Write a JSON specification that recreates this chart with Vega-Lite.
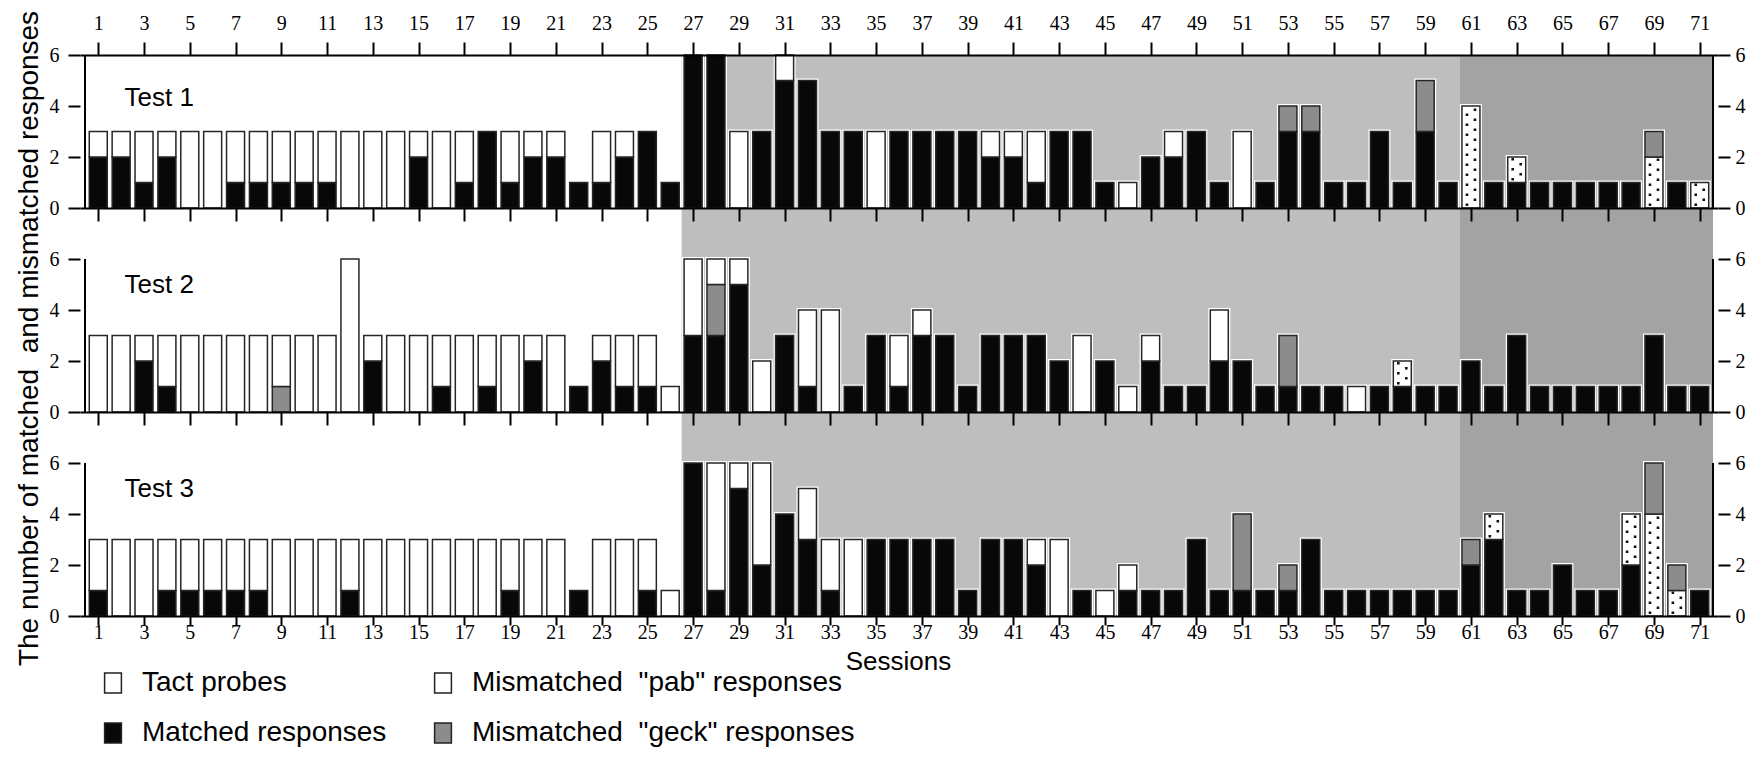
{
  "$schema": "https://vega.github.io/schema/vega-lite/v6.json",
  "background": "white",
  "padding": {"left": 14, "top": 10, "right": 10, "bottom": 10},
  "bounds": "flush",
  "spacing": 0,
  "datasets": {
    "phases": [
      {"phase": "light", "start": 26.5, "end": 60.5},
      {"phase": "dark", "start": 60.5, "end": 71.58}
    ],
    "panels": [
      {"test": 1, "label": "Test 1"},
      {"test": 2, "label": "Test 2"},
      {"test": 3, "label": "Test 3"}
    ],
    "sessions": [
      {"test":1,"session":1,"matched":2,"tact":1},
      {"test":1,"session":2,"matched":2,"tact":1},
      {"test":1,"session":3,"matched":1,"tact":2},
      {"test":1,"session":4,"matched":2,"tact":1},
      {"test":1,"session":5,"tact":3},
      {"test":1,"session":6,"tact":3},
      {"test":1,"session":7,"matched":1,"tact":2},
      {"test":1,"session":8,"matched":1,"tact":2},
      {"test":1,"session":9,"matched":1,"tact":2},
      {"test":1,"session":10,"matched":1,"tact":2},
      {"test":1,"session":11,"matched":1,"tact":2},
      {"test":1,"session":12,"tact":3},
      {"test":1,"session":13,"tact":3},
      {"test":1,"session":14,"tact":3},
      {"test":1,"session":15,"matched":2,"tact":1},
      {"test":1,"session":16,"tact":3},
      {"test":1,"session":17,"matched":1,"tact":2},
      {"test":1,"session":18,"matched":3},
      {"test":1,"session":19,"matched":1,"tact":2},
      {"test":1,"session":20,"matched":2,"tact":1},
      {"test":1,"session":21,"matched":2,"tact":1},
      {"test":1,"session":22,"matched":1},
      {"test":1,"session":23,"matched":1,"tact":2},
      {"test":1,"session":24,"matched":2,"tact":1},
      {"test":1,"session":25,"matched":3},
      {"test":1,"session":26,"matched":1},
      {"test":1,"session":27,"matched":6},
      {"test":1,"session":28,"matched":6},
      {"test":1,"session":29,"tact":3},
      {"test":1,"session":30,"matched":3},
      {"test":1,"session":31,"matched":5,"tact":1},
      {"test":1,"session":32,"matched":5},
      {"test":1,"session":33,"matched":3},
      {"test":1,"session":34,"matched":3},
      {"test":1,"session":35,"tact":3},
      {"test":1,"session":36,"matched":3},
      {"test":1,"session":37,"matched":3},
      {"test":1,"session":38,"matched":3},
      {"test":1,"session":39,"matched":3},
      {"test":1,"session":40,"matched":2,"tact":1},
      {"test":1,"session":41,"matched":2,"tact":1},
      {"test":1,"session":42,"matched":1,"tact":2},
      {"test":1,"session":43,"matched":3},
      {"test":1,"session":44,"matched":3},
      {"test":1,"session":45,"matched":1},
      {"test":1,"session":46,"tact":1},
      {"test":1,"session":47,"matched":2},
      {"test":1,"session":48,"matched":2,"tact":1},
      {"test":1,"session":49,"matched":3},
      {"test":1,"session":50,"matched":1},
      {"test":1,"session":51,"tact":3},
      {"test":1,"session":52,"matched":1},
      {"test":1,"session":53,"matched":3,"geck":1},
      {"test":1,"session":54,"matched":3,"geck":1},
      {"test":1,"session":55,"matched":1},
      {"test":1,"session":56,"matched":1},
      {"test":1,"session":57,"matched":3},
      {"test":1,"session":58,"matched":1},
      {"test":1,"session":59,"matched":3,"geck":2},
      {"test":1,"session":60,"matched":1},
      {"test":1,"session":61,"pab":4},
      {"test":1,"session":62,"matched":1},
      {"test":1,"session":63,"matched":1,"pab":1},
      {"test":1,"session":64,"matched":1},
      {"test":1,"session":65,"matched":1},
      {"test":1,"session":66,"matched":1},
      {"test":1,"session":67,"matched":1},
      {"test":1,"session":68,"matched":1},
      {"test":1,"session":69,"pab":2,"geck":1},
      {"test":1,"session":70,"matched":1},
      {"test":1,"session":71,"pab":1},

      {"test":2,"session":1,"tact":3},
      {"test":2,"session":2,"tact":3},
      {"test":2,"session":3,"matched":2,"tact":1},
      {"test":2,"session":4,"matched":1,"tact":2},
      {"test":2,"session":5,"tact":3},
      {"test":2,"session":6,"tact":3},
      {"test":2,"session":7,"tact":3},
      {"test":2,"session":8,"tact":3},
      {"test":2,"session":9,"geck":1,"tact":2},
      {"test":2,"session":10,"tact":3},
      {"test":2,"session":11,"tact":3},
      {"test":2,"session":12,"tact":6},
      {"test":2,"session":13,"matched":2,"tact":1},
      {"test":2,"session":14,"tact":3},
      {"test":2,"session":15,"tact":3},
      {"test":2,"session":16,"matched":1,"tact":2},
      {"test":2,"session":17,"tact":3},
      {"test":2,"session":18,"matched":1,"tact":2},
      {"test":2,"session":19,"tact":3},
      {"test":2,"session":20,"matched":2,"tact":1},
      {"test":2,"session":21,"tact":3},
      {"test":2,"session":22,"matched":1},
      {"test":2,"session":23,"matched":2,"tact":1},
      {"test":2,"session":24,"matched":1,"tact":2},
      {"test":2,"session":25,"matched":1,"tact":2},
      {"test":2,"session":26,"tact":1},
      {"test":2,"session":27,"matched":3,"tact":3},
      {"test":2,"session":28,"matched":3,"geck":2,"tact":1},
      {"test":2,"session":29,"matched":5,"tact":1},
      {"test":2,"session":30,"tact":2},
      {"test":2,"session":31,"matched":3},
      {"test":2,"session":32,"matched":1,"tact":3},
      {"test":2,"session":33,"tact":4},
      {"test":2,"session":34,"matched":1},
      {"test":2,"session":35,"matched":3},
      {"test":2,"session":36,"matched":1,"tact":2},
      {"test":2,"session":37,"matched":3,"tact":1},
      {"test":2,"session":38,"matched":3},
      {"test":2,"session":39,"matched":1},
      {"test":2,"session":40,"matched":3},
      {"test":2,"session":41,"matched":3},
      {"test":2,"session":42,"matched":3},
      {"test":2,"session":43,"matched":2},
      {"test":2,"session":44,"tact":3},
      {"test":2,"session":45,"matched":2},
      {"test":2,"session":46,"tact":1},
      {"test":2,"session":47,"matched":2,"tact":1},
      {"test":2,"session":48,"matched":1},
      {"test":2,"session":49,"matched":1},
      {"test":2,"session":50,"matched":2,"tact":2},
      {"test":2,"session":51,"matched":2},
      {"test":2,"session":52,"matched":1},
      {"test":2,"session":53,"matched":1,"geck":2},
      {"test":2,"session":54,"matched":1},
      {"test":2,"session":55,"matched":1},
      {"test":2,"session":56,"tact":1},
      {"test":2,"session":57,"matched":1},
      {"test":2,"session":58,"matched":1,"pab":1},
      {"test":2,"session":59,"matched":1},
      {"test":2,"session":60,"matched":1},
      {"test":2,"session":61,"matched":2},
      {"test":2,"session":62,"matched":1},
      {"test":2,"session":63,"matched":3},
      {"test":2,"session":64,"matched":1},
      {"test":2,"session":65,"matched":1},
      {"test":2,"session":66,"matched":1},
      {"test":2,"session":67,"matched":1},
      {"test":2,"session":68,"matched":1},
      {"test":2,"session":69,"matched":3},
      {"test":2,"session":70,"matched":1},
      {"test":2,"session":71,"matched":1},

      {"test":3,"session":1,"matched":1,"tact":2},
      {"test":3,"session":2,"tact":3},
      {"test":3,"session":3,"tact":3},
      {"test":3,"session":4,"matched":1,"tact":2},
      {"test":3,"session":5,"matched":1,"tact":2},
      {"test":3,"session":6,"matched":1,"tact":2},
      {"test":3,"session":7,"matched":1,"tact":2},
      {"test":3,"session":8,"matched":1,"tact":2},
      {"test":3,"session":9,"tact":3},
      {"test":3,"session":10,"tact":3},
      {"test":3,"session":11,"tact":3},
      {"test":3,"session":12,"matched":1,"tact":2},
      {"test":3,"session":13,"tact":3},
      {"test":3,"session":14,"tact":3},
      {"test":3,"session":15,"tact":3},
      {"test":3,"session":16,"tact":3},
      {"test":3,"session":17,"tact":3},
      {"test":3,"session":18,"tact":3},
      {"test":3,"session":19,"matched":1,"tact":2},
      {"test":3,"session":20,"tact":3},
      {"test":3,"session":21,"tact":3},
      {"test":3,"session":22,"matched":1},
      {"test":3,"session":23,"tact":3},
      {"test":3,"session":24,"tact":3},
      {"test":3,"session":25,"matched":1,"tact":2},
      {"test":3,"session":26,"tact":1},
      {"test":3,"session":27,"matched":6},
      {"test":3,"session":28,"matched":1,"tact":5},
      {"test":3,"session":29,"matched":5,"tact":1},
      {"test":3,"session":30,"matched":2,"tact":4},
      {"test":3,"session":31,"matched":4},
      {"test":3,"session":32,"matched":3,"tact":2},
      {"test":3,"session":33,"matched":1,"tact":2},
      {"test":3,"session":34,"tact":3},
      {"test":3,"session":35,"matched":3},
      {"test":3,"session":36,"matched":3},
      {"test":3,"session":37,"matched":3},
      {"test":3,"session":38,"matched":3},
      {"test":3,"session":39,"matched":1},
      {"test":3,"session":40,"matched":3},
      {"test":3,"session":41,"matched":3},
      {"test":3,"session":42,"matched":2,"tact":1},
      {"test":3,"session":43,"tact":3},
      {"test":3,"session":44,"matched":1},
      {"test":3,"session":45,"tact":1},
      {"test":3,"session":46,"matched":1,"tact":1},
      {"test":3,"session":47,"matched":1},
      {"test":3,"session":48,"matched":1},
      {"test":3,"session":49,"matched":3},
      {"test":3,"session":50,"matched":1},
      {"test":3,"session":51,"matched":1,"geck":3},
      {"test":3,"session":52,"matched":1},
      {"test":3,"session":53,"matched":1,"geck":1},
      {"test":3,"session":54,"matched":3},
      {"test":3,"session":55,"matched":1},
      {"test":3,"session":56,"matched":1},
      {"test":3,"session":57,"matched":1},
      {"test":3,"session":58,"matched":1},
      {"test":3,"session":59,"matched":1},
      {"test":3,"session":60,"matched":1},
      {"test":3,"session":61,"matched":2,"geck":1},
      {"test":3,"session":62,"matched":3,"pab":1},
      {"test":3,"session":63,"matched":1},
      {"test":3,"session":64,"matched":1},
      {"test":3,"session":65,"matched":2},
      {"test":3,"session":66,"matched":1},
      {"test":3,"session":67,"matched":1},
      {"test":3,"session":68,"matched":2,"pab":2},
      {"test":3,"session":69,"pab":4,"geck":2},
      {"test":3,"session":70,"pab":1,"geck":1},
      {"test":3,"session":71,"matched":1}
    ]
  },
  "vconcat": [
    {
      "width": 1638, "height": 153,
      "data": {"name": "sessions"},
      "transform": [
        {"filter": "datum.test == 1"},
        {"fold": ["matched", "pab", "geck", "tact"], "as": ["key", "value"]},
        {"filter": "datum.value > 0"},
        {"stack": "value", "groupby": ["session"], "as": ["y0", "y1"]}
      ],
      "resolve": {"axis": {"x": "independent", "y": "independent"}},
      "layer": [
        {"data": {"name": "phases"}, "transform": [{"filter": "datum.phase == 'light'"}],
         "mark": {"type": "rect", "color": "#bebebe"},
         "encoding": {"x": {"field": "start", "type": "quantitative", "scale": {"domain": [0.42, 71.58], "nice": false, "zero": false}, "axis": null}, "x2": {"field": "end"}}},
        {"data": {"name": "phases"}, "transform": [{"filter": "datum.phase == 'dark'"}],
         "mark": {"type": "rect", "color": "#a3a3a3"},
         "encoding": {"x": {"field": "start", "type": "quantitative", "scale": {"domain": [0.42, 71.58], "nice": false, "zero": false}, "axis": null}, "x2": {"field": "end"}}},
        {"mark": {"type": "bar", "width": 18, "fill": "white", "stroke": "white", "strokeWidth": 4},
         "encoding": {
           "x": {"field": "session", "type": "quantitative", "scale": {"domain": [0.42, 71.58], "nice": false, "zero": false},
                 "axis": {"orient": "top", "values": [1,3,5,7,9,11,13,15,17,19,21,23,25,27,29,31,33,35,37,39,41,43,45,47,49,51,53,55,57,59,61,63,65,67,69,71], "title": null, "tickSize": 13, "labelPadding": 9, "zindex": 1}},
           "y": {"field": "y0", "type": "quantitative", "scale": {"domain": [0, 6], "nice": false, "zero": false},
                 "axis": {"orient": "left", "values": [0, 2, 4, 6], "title": null, "domain": false, "tickSize": 12, "labelPadding": 9}},
           "y2": {"field": "y1"}}},
        {"mark": {"type": "bar", "width": 18, "stroke": "#262626", "strokeWidth": 1.5},
         "encoding": {
           "x": {"field": "session", "type": "quantitative", "scale": {"domain": [0.42, 71.58], "nice": false, "zero": false}, "axis": null},
           "y": {"field": "y0", "type": "quantitative", "scale": {"domain": [0, 6], "nice": false, "zero": false},
                 "axis": {"orient": "right", "values": [0, 2, 4, 6], "title": null, "domain": false, "tickSize": 12, "labelPadding": 5}},
           "y2": {"field": "y1"},
           "color": {"field": "key", "type": "nominal", "scale": {"domain": ["tact", "matched", "pab", "geck"], "range": ["#ffffff", "#080808", "#ffffff", "#8c8c8c"]}, "legend": null}}},
        {"transform": [{"filter": "datum.key == 'pab'"}],
         "mark": {"type": "rule", "color": "#111111", "strokeWidth": 2.6, "strokeDash": [2.6, 7.4], "strokeDashOffset": 8, "xOffset": -4},
         "encoding": {
           "x": {"field": "session", "type": "quantitative", "scale": {"domain": [0.42, 71.58], "nice": false, "zero": false}, "axis": null},
           "y": {"field": "y0", "type": "quantitative", "scale": {"domain": [0, 6], "nice": false, "zero": false}, "axis": null},
           "y2": {"field": "y1"}}},
        {"transform": [{"filter": "datum.key == 'pab'"}],
         "mark": {"type": "rule", "color": "#111111", "strokeWidth": 2.6, "strokeDash": [2.6, 7.4], "strokeDashOffset": 3, "xOffset": 4},
         "encoding": {
           "x": {"field": "session", "type": "quantitative", "scale": {"domain": [0.42, 71.58], "nice": false, "zero": false}, "axis": null},
           "y": {"field": "y0", "type": "quantitative", "scale": {"domain": [0, 6], "nice": false, "zero": false}, "axis": null},
           "y2": {"field": "y1"}}},
        {"data": {"name": "panels"}, "transform": [{"filter": "datum.test == 1"}],
         "mark": {"type": "rule", "color": "black", "strokeWidth": 2},
         "encoding": {
           "x": {"datum": 0.42, "type": "quantitative", "scale": {"domain": [0.42, 71.58], "nice": false, "zero": false}, "axis": null},
           "y": {"datum": 0, "type": "quantitative", "scale": {"domain": [0, 6], "nice": false, "zero": false}, "axis": null},
           "y2": {"datum": 6}}},
        {"data": {"name": "panels"}, "transform": [{"filter": "datum.test == 1"}],
         "mark": {"type": "rule", "color": "black", "strokeWidth": 2},
         "encoding": {
           "x": {"datum": 71.58, "type": "quantitative", "scale": {"domain": [0.42, 71.58], "nice": false, "zero": false}, "axis": null},
           "y": {"datum": 0, "type": "quantitative", "scale": {"domain": [0, 6], "nice": false, "zero": false}, "axis": null},
           "y2": {"datum": 6}}},
        {"data": {"name": "panels"}, "transform": [{"filter": "datum.test == 1"}],
         "mark": {"type": "text", "align": "left", "baseline": "middle", "font": "Liberation Sans", "fontSize": 26, "color": "black"},
         "encoding": {
           "text": {"field": "label"},
           "x": {"datum": 2.15, "type": "quantitative", "scale": {"domain": [0.42, 71.58], "nice": false, "zero": false}, "axis": null},
           "y": {"datum": 4.3, "type": "quantitative", "scale": {"domain": [0, 6], "nice": false, "zero": false}, "axis": null}}}
      ]
    },
    {
      "width": 1638, "height": 204,
      "data": {"name": "sessions"},
      "transform": [
        {"filter": "datum.test == 2"},
        {"fold": ["matched", "pab", "geck", "tact"], "as": ["key", "value"]},
        {"filter": "datum.value > 0"},
        {"stack": "value", "groupby": ["session"], "as": ["y0", "y1"]}
      ],
      "resolve": {"axis": {"x": "independent", "y": "independent"}},
      "layer": [
        {"data": {"name": "phases"}, "transform": [{"filter": "datum.phase == 'light'"}],
         "mark": {"type": "rect", "color": "#bebebe"},
         "encoding": {"x": {"field": "start", "type": "quantitative", "scale": {"domain": [0.42, 71.58], "nice": false, "zero": false}, "axis": null}, "x2": {"field": "end"}}},
        {"data": {"name": "phases"}, "transform": [{"filter": "datum.phase == 'dark'"}],
         "mark": {"type": "rect", "color": "#a3a3a3"},
         "encoding": {"x": {"field": "start", "type": "quantitative", "scale": {"domain": [0.42, 71.58], "nice": false, "zero": false}, "axis": null}, "x2": {"field": "end"}}},
        {"mark": {"type": "bar", "width": 18, "fill": "white", "stroke": "white", "strokeWidth": 4},
         "encoding": {
           "x": {"field": "session", "type": "quantitative", "scale": {"domain": [0.42, 71.58], "nice": false, "zero": false},
                 "axis": {"orient": "top", "values": [1,3,5,7,9,11,13,15,17,19,21,23,25,27,29,31,33,35,37,39,41,43,45,47,49,51,53,55,57,59,61,63,65,67,69,71], "title": null, "labels": false, "tickSize": -13, "zindex": 1}},
           "y": {"field": "y0", "type": "quantitative", "scale": {"domain": [0, 8], "nice": false, "zero": false},
                 "axis": {"orient": "left", "values": [0, 2, 4, 6], "domain": false, "tickSize": 12, "labelPadding": 9,
                          "title": "The number of matched\u00a0 and mismatched responses", "titleX": -51, "titleY": 130, "titleAngle": 270, "titleAlign": "center", "titleBaseline": "middle"}},
           "y2": {"field": "y1"}}},
        {"mark": {"type": "bar", "width": 18, "stroke": "#262626", "strokeWidth": 1.5},
         "encoding": {
           "x": {"field": "session", "type": "quantitative", "scale": {"domain": [0.42, 71.58], "nice": false, "zero": false}, "axis": null},
           "y": {"field": "y0", "type": "quantitative", "scale": {"domain": [0, 8], "nice": false, "zero": false},
                 "axis": {"orient": "right", "values": [0, 2, 4, 6], "title": null, "domain": false, "tickSize": 12, "labelPadding": 5}},
           "y2": {"field": "y1"},
           "color": {"field": "key", "type": "nominal", "scale": {"domain": ["tact", "matched", "pab", "geck"], "range": ["#ffffff", "#080808", "#ffffff", "#8c8c8c"]}, "legend": null}}},
        {"transform": [{"filter": "datum.key == 'pab'"}],
         "mark": {"type": "rule", "color": "#111111", "strokeWidth": 2.6, "strokeDash": [2.6, 7.4], "strokeDashOffset": 8, "xOffset": -4},
         "encoding": {
           "x": {"field": "session", "type": "quantitative", "scale": {"domain": [0.42, 71.58], "nice": false, "zero": false}, "axis": null},
           "y": {"field": "y0", "type": "quantitative", "scale": {"domain": [0, 8], "nice": false, "zero": false}, "axis": null},
           "y2": {"field": "y1"}}},
        {"transform": [{"filter": "datum.key == 'pab'"}],
         "mark": {"type": "rule", "color": "#111111", "strokeWidth": 2.6, "strokeDash": [2.6, 7.4], "strokeDashOffset": 3, "xOffset": 4},
         "encoding": {
           "x": {"field": "session", "type": "quantitative", "scale": {"domain": [0.42, 71.58], "nice": false, "zero": false}, "axis": null},
           "y": {"field": "y0", "type": "quantitative", "scale": {"domain": [0, 8], "nice": false, "zero": false}, "axis": null},
           "y2": {"field": "y1"}}},
        {"data": {"name": "panels"}, "transform": [{"filter": "datum.test == 2"}],
         "mark": {"type": "rule", "color": "black", "strokeWidth": 2},
         "encoding": {
           "x": {"datum": 0.42, "type": "quantitative", "scale": {"domain": [0.42, 71.58], "nice": false, "zero": false}, "axis": null},
           "y": {"datum": 0, "type": "quantitative", "scale": {"domain": [0, 8], "nice": false, "zero": false}, "axis": null},
           "y2": {"datum": 6}}},
        {"data": {"name": "panels"}, "transform": [{"filter": "datum.test == 2"}],
         "mark": {"type": "rule", "color": "black", "strokeWidth": 2},
         "encoding": {
           "x": {"datum": 71.58, "type": "quantitative", "scale": {"domain": [0.42, 71.58], "nice": false, "zero": false}, "axis": null},
           "y": {"datum": 0, "type": "quantitative", "scale": {"domain": [0, 8], "nice": false, "zero": false}, "axis": null},
           "y2": {"datum": 6}}},
        {"data": {"name": "panels"}, "transform": [{"filter": "datum.test == 2"}],
         "mark": {"type": "text", "align": "left", "baseline": "middle", "font": "Liberation Sans", "fontSize": 26, "color": "black"},
         "encoding": {
           "text": {"field": "label"},
           "x": {"datum": 2.15, "type": "quantitative", "scale": {"domain": [0.42, 71.58], "nice": false, "zero": false}, "axis": null},
           "y": {"datum": 5.0, "type": "quantitative", "scale": {"domain": [0, 8], "nice": false, "zero": false}, "axis": null}}}
      ]
    },
    {
      "width": 1638, "height": 204,
      "data": {"name": "sessions"},
      "transform": [
        {"filter": "datum.test == 3"},
        {"fold": ["matched", "pab", "geck", "tact"], "as": ["key", "value"]},
        {"filter": "datum.value > 0"},
        {"stack": "value", "groupby": ["session"], "as": ["y0", "y1"]}
      ],
      "resolve": {"axis": {"x": "independent", "y": "independent"}},
      "layer": [
        {"data": {"name": "phases"}, "transform": [{"filter": "datum.phase == 'light'"}],
         "mark": {"type": "rect", "color": "#bebebe"},
         "encoding": {"x": {"field": "start", "type": "quantitative", "scale": {"domain": [0.42, 71.58], "nice": false, "zero": false}, "axis": null}, "x2": {"field": "end"}}},
        {"data": {"name": "phases"}, "transform": [{"filter": "datum.phase == 'dark'"}],
         "mark": {"type": "rect", "color": "#a3a3a3"},
         "encoding": {"x": {"field": "start", "type": "quantitative", "scale": {"domain": [0.42, 71.58], "nice": false, "zero": false}, "axis": null}, "x2": {"field": "end"}}},
        {"mark": {"type": "bar", "width": 18, "fill": "white", "stroke": "white", "strokeWidth": 4},
         "encoding": {
           "x": {"field": "session", "type": "quantitative", "scale": {"domain": [0.42, 71.58], "nice": false, "zero": false},
                 "axis": {"orient": "top", "values": [1,3,5,7,9,11,13,15,17,19,21,23,25,27,29,31,33,35,37,39,41,43,45,47,49,51,53,55,57,59,61,63,65,67,69,71], "title": null, "labels": false, "tickSize": -13, "zindex": 1}},
           "y": {"field": "y0", "type": "quantitative", "scale": {"domain": [0, 8], "nice": false, "zero": false},
                 "axis": {"orient": "left", "values": [0, 2, 4, 6], "title": null, "domain": false, "tickSize": 12, "labelPadding": 9}},
           "y2": {"field": "y1"}}},
        {"mark": {"type": "bar", "width": 18, "stroke": "#262626", "strokeWidth": 1.5},
         "encoding": {
           "x": {"field": "session", "type": "quantitative", "scale": {"domain": [0.42, 71.58], "nice": false, "zero": false},
                 "axis": {"orient": "bottom", "values": [1,3,5,7,9,11,13,15,17,19,21,23,25,27,29,31,33,35,37,39,41,43,45,47,49,51,53,55,57,59,61,63,65,67,69,71], "title": "Sessions", "tickSize": 9, "labelPadding": -3, "zindex": 1, "titleX": 818, "titleY": 45, "titleBaseline": "middle", "titleFontSize": 26}},
           "y": {"field": "y0", "type": "quantitative", "scale": {"domain": [0, 8], "nice": false, "zero": false},
                 "axis": {"orient": "right", "values": [0, 2, 4, 6], "title": null, "domain": false, "tickSize": 12, "labelPadding": 5}},
           "y2": {"field": "y1"},
           "color": {"field": "key", "type": "nominal", "scale": {"domain": ["tact", "matched", "pab", "geck"], "range": ["#ffffff", "#080808", "#ffffff", "#8c8c8c"]},
                     "legend": {"orient": "none", "legendX": 19, "legendY": 257, "columns": 2, "title": null,
                                "labelExpr": "datum.label == 'tact' ? 'Tact probes' : datum.label == 'pab' ? 'Mismatched\u00a0 \"pab\" responses' : datum.label == 'matched' ? 'Matched responses' : 'Mismatched\u00a0 \"geck\" responses'",
                                "symbolType": "M-0.84,-1H0.84V1H-0.84Z", "symbolSize": 400, "symbolStrokeColor": "#222222", "symbolStrokeWidth": 1.5,
                                "labelFont": "Liberation Sans", "labelFontSize": 28, "labelColor": "black", "labelLimit": 600,
                                "rowPadding": 22, "columnPadding": 42, "labelOffset": 15}}}},
        {"transform": [{"filter": "datum.key == 'pab'"}],
         "mark": {"type": "rule", "color": "#111111", "strokeWidth": 2.6, "strokeDash": [2.6, 7.4], "strokeDashOffset": 8, "xOffset": -4},
         "encoding": {
           "x": {"field": "session", "type": "quantitative", "scale": {"domain": [0.42, 71.58], "nice": false, "zero": false}, "axis": null},
           "y": {"field": "y0", "type": "quantitative", "scale": {"domain": [0, 8], "nice": false, "zero": false}, "axis": null},
           "y2": {"field": "y1"}}},
        {"transform": [{"filter": "datum.key == 'pab'"}],
         "mark": {"type": "rule", "color": "#111111", "strokeWidth": 2.6, "strokeDash": [2.6, 7.4], "strokeDashOffset": 3, "xOffset": 4},
         "encoding": {
           "x": {"field": "session", "type": "quantitative", "scale": {"domain": [0.42, 71.58], "nice": false, "zero": false}, "axis": null},
           "y": {"field": "y0", "type": "quantitative", "scale": {"domain": [0, 8], "nice": false, "zero": false}, "axis": null},
           "y2": {"field": "y1"}}},
        {"data": {"name": "panels"}, "transform": [{"filter": "datum.test == 3"}],
         "mark": {"type": "rule", "color": "black", "strokeWidth": 2},
         "encoding": {
           "x": {"datum": 0.42, "type": "quantitative", "scale": {"domain": [0.42, 71.58], "nice": false, "zero": false}, "axis": null},
           "y": {"datum": 0, "type": "quantitative", "scale": {"domain": [0, 8], "nice": false, "zero": false}, "axis": null},
           "y2": {"datum": 6}}},
        {"data": {"name": "panels"}, "transform": [{"filter": "datum.test == 3"}],
         "mark": {"type": "rule", "color": "black", "strokeWidth": 2},
         "encoding": {
           "x": {"datum": 71.58, "type": "quantitative", "scale": {"domain": [0.42, 71.58], "nice": false, "zero": false}, "axis": null},
           "y": {"datum": 0, "type": "quantitative", "scale": {"domain": [0, 8], "nice": false, "zero": false}, "axis": null},
           "y2": {"datum": 6}}},
        {"data": {"name": "panels"}, "transform": [{"filter": "datum.test == 3"}],
         "mark": {"type": "text", "align": "left", "baseline": "middle", "font": "Liberation Sans", "fontSize": 26, "color": "black"},
         "encoding": {
           "text": {"field": "label"},
           "x": {"datum": 2.15, "type": "quantitative", "scale": {"domain": [0.42, 71.58], "nice": false, "zero": false}, "axis": null},
           "y": {"datum": 5.0, "type": "quantitative", "scale": {"domain": [0, 8], "nice": false, "zero": false}, "axis": null}}}
      ]
    }
  ],
  "resolve": {
    "scale": {"x": "independent", "y": "independent", "color": "independent"},
    "axis": {"x": "independent", "y": "independent"},
    "legend": {"color": "independent"}
  },
  "config": {
    "view": {"stroke": null},
    "axis": {
      "domainColor": "black", "domainWidth": 2, "tickColor": "black", "tickWidth": 2,
      "labelFont": "Liberation Serif", "labelFontSize": 20, "labelColor": "black",
      "labelOverlap": false, "labelFlush": false, "grid": false,
      "titleFont": "Liberation Sans", "titleFontSize": 28, "titleFontWeight": "normal", "titleColor": "black"
    }
  }
}
